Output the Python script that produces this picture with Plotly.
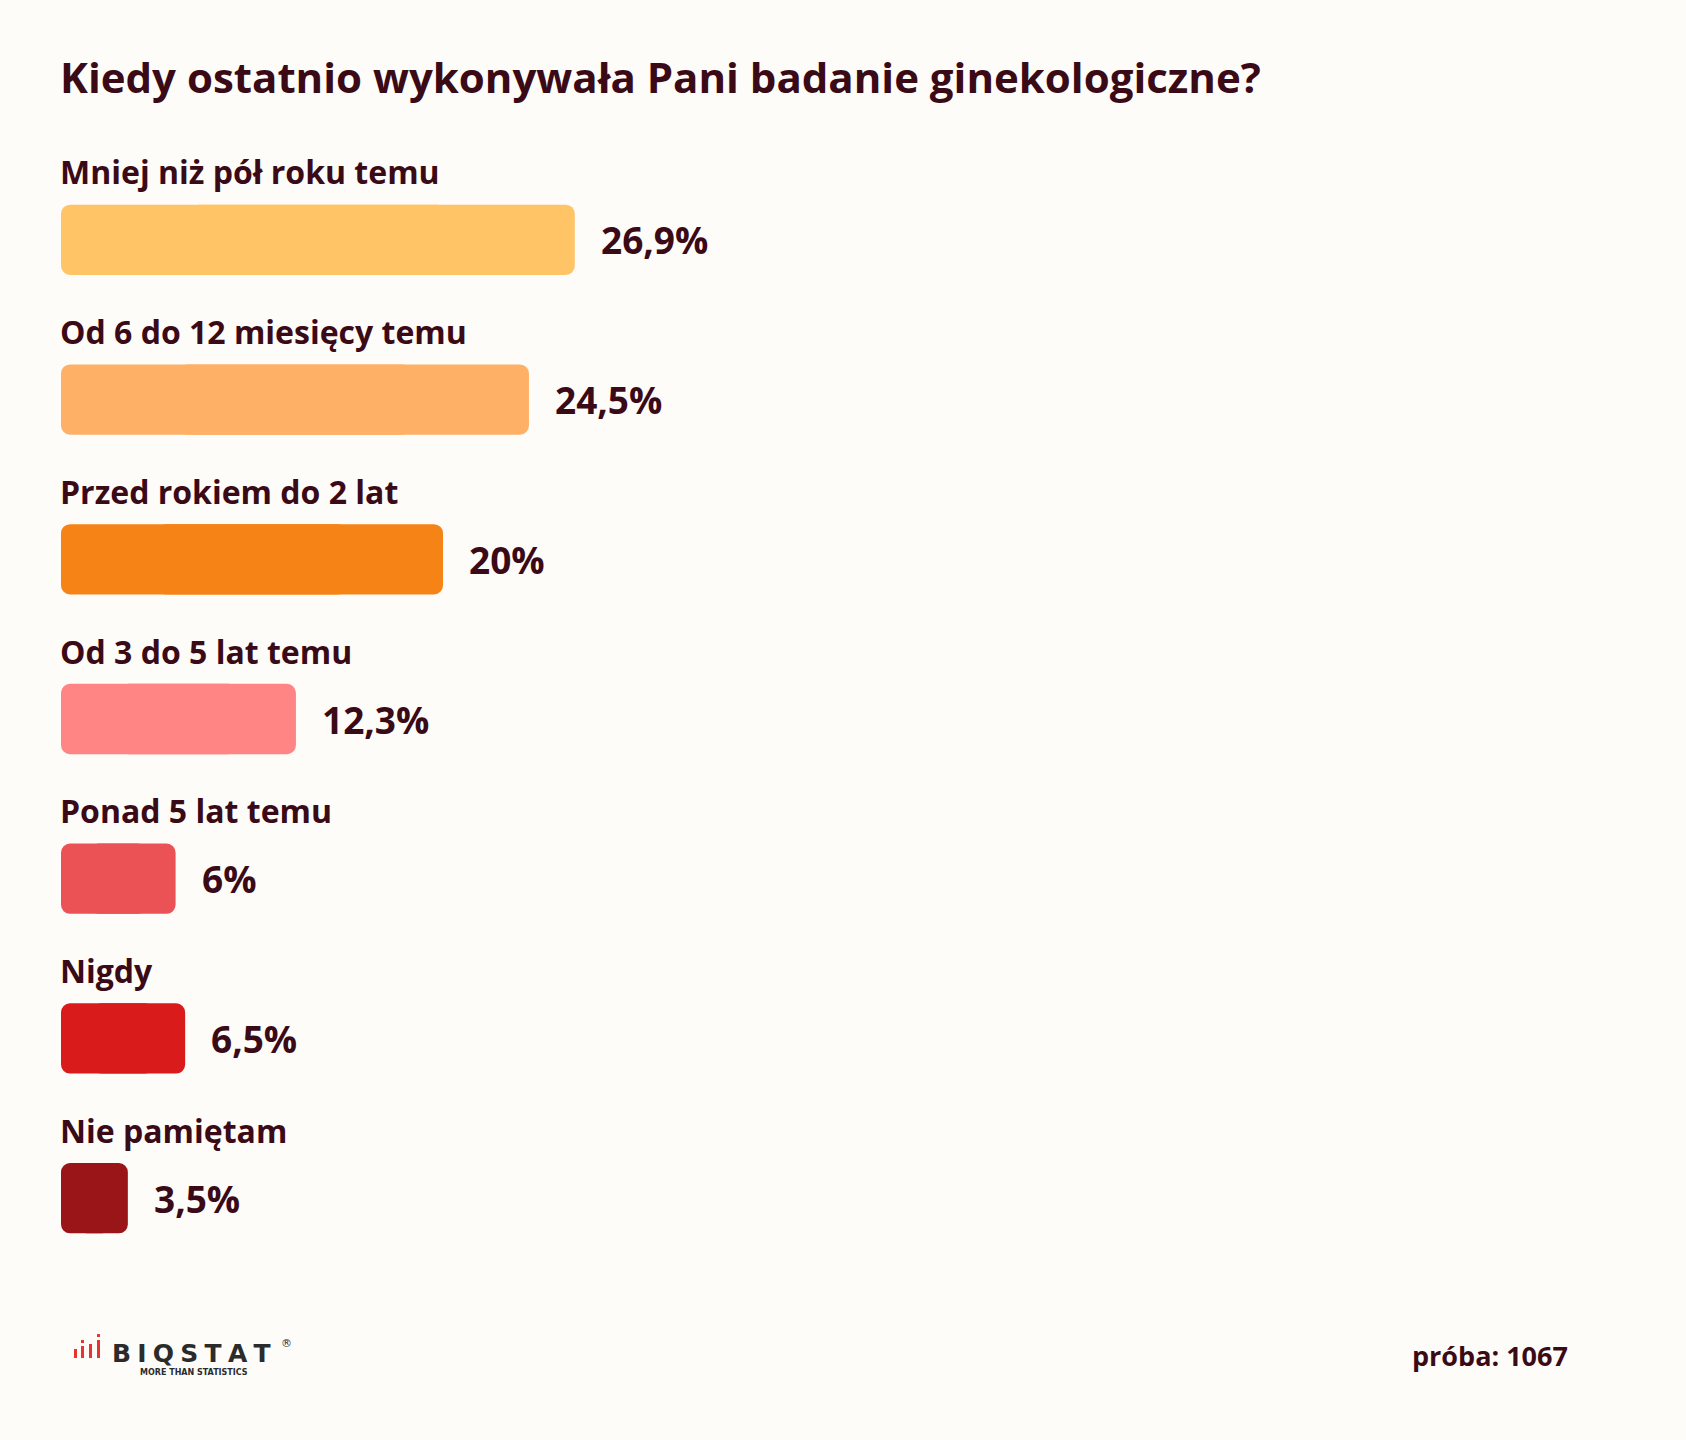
import plotly.graph_objects as go

# ---- data ----
categories = [
    "Mniej niż pół roku temu",
    "Od 6 do 12 miesięcy temu",
    "Przed rokiem do 2 lat",
    "Od 3 do 5 lat temu",
    "Ponad 5 lat temu",
    "Nigdy",
    "Nie pamiętam",
]
values = [26.9, 24.5, 20.0, 12.3, 6.0, 6.5, 3.5]
value_labels = ["26,9%", "24,5%", "20%", "12,3%", "6%", "6,5%", "3,5%"]
colors = ["#FFC466", "#FFB067", "#F58315", "#FF8585", "#EB5256", "#D91B1B", "#9A1518"]

title_text = "Kiedy ostatnio wykonywała Pani badanie ginekologiczne?"
sample_text = "próba: 1067"

# ---- layout geometry ----
W, H = 1686, 1440
ML, MR, MT, MB = 61, 97, 160, 162
PW, PH = W - ML - MR, H - MT - MB
TEXT = "#3A0B16"
BG = "#FDFCF9"
FONT = "Open Sans"


def px(x):
    return (x - ML) / PW


def py(y):
    return 1 - (y - MT) / PH


# each bar is drawn as two overlapping pieces so that both ends get rounded corners
right_base = [v * 0.25 for v in values]
right_len = [v * 0.75 for v in values]
left_base = [v * 0.75 for v in values]
left_len = [-v * 0.75 for v in values]

fig = go.Figure()
fig.add_trace(go.Bar(
    x=right_len, base=right_base, y=categories, orientation="h",
    marker=dict(color=colors, line=dict(width=0)),
    width=0.44, hoverinfo="skip",
))
fig.add_trace(go.Bar(
    x=left_len, base=left_base, y=categories, orientation="h",
    marker=dict(color=colors, line=dict(width=0)),
    width=0.44, hoverinfo="skip",
))

annotations = []
for cat, val, lab in zip(categories, values, value_labels):
    annotations.append(dict(
        x=0, y=cat, xref="x", yref="y", text=cat, showarrow=False,
        xanchor="left", yanchor="middle", yshift=68, xshift=-3,
        font=dict(family=FONT, size=32, color=TEXT, weight=700),
    ))
    annotations.append(dict(
        x=val, y=cat, xref="x", yref="y", text=lab, showarrow=False,
        xanchor="left", yanchor="middle", xshift=24,
        font=dict(family=FONT, size=37, color=TEXT, weight=700),
    ))

# title
annotations.append(dict(
    x=px(58), y=py(77), xref="paper", yref="paper", text=title_text,
    showarrow=False, xanchor="left", yanchor="middle",
    font=dict(family=FONT, size=42, color=TEXT, weight=700),
))
# sample size
annotations.append(dict(
    x=px(1570), y=py(1355), xref="paper", yref="paper", text=sample_text,
    showarrow=False, xanchor="right", yanchor="middle",
    font=dict(family=FONT, size=27, color=TEXT, weight=700),
))
# logo text
sp = "\u2005"
annotations.append(dict(
    x=px(110), y=py(1353), xref="paper", yref="paper", text=sp.join("BIQSTAT"),
    showarrow=False, xanchor="left", yanchor="middle",
    font=dict(family="DejaVu Sans", size=25, color="#2B2B2B", weight=700),
))
annotations.append(dict(
    x=px(194), y=py(1372), xref="paper", yref="paper", text="MORE THAN STATISTICS",
    showarrow=False, xanchor="center", yanchor="middle",
    font=dict(family="DejaVu Sans", size=8, color="#2B2B2B", weight=700),
))
annotations.append(dict(
    x=px(286), y=py(1343), xref="paper", yref="paper", text="®",
    showarrow=False, xanchor="center", yanchor="middle",
    font=dict(family="DejaVu Sans", size=11, color="#2B2B2B"),
))

# logo icon (decorative)
shapes = []
icon = [(74, 1349, 1358), (81, 1346, 1358), (89, 1344, 1358), (97, 1340, 1358)]
dots = [(81, 1340), (97, 1334)]
for x0, y0, y1 in icon:
    shapes.append(dict(type="rect", xref="paper", yref="paper",
                       x0=px(x0), x1=px(x0 + 3), y0=py(y1), y1=py(y0),
                       fillcolor="#E8332F", line=dict(width=0)))
for x0, y0 in dots:
    shapes.append(dict(type="rect", xref="paper", yref="paper",
                       x0=px(x0), x1=px(x0 + 3), y0=py(y0 + 3), y1=py(y0),
                       fillcolor="#E8332F", line=dict(width=0)))

fig.update_layout(
    width=W, height=H,
    margin=dict(l=ML, r=MR, t=MT, b=MB, pad=0),
    paper_bgcolor=BG, plot_bgcolor=BG,
    showlegend=False,
    barmode="overlay",
    barcornerradius=9,
    xaxis=dict(range=[0, 80], visible=False, fixedrange=True),
    yaxis=dict(categoryorder="array", categoryarray=categories,
               range=[6.5, -0.5], autorange=False, visible=False, fixedrange=True),
    annotations=annotations,
    shapes=shapes,
)

fig.write_html(
    "out.html",
    config={"displayModeBar": False},
    post_script="document.body.style.margin='0';document.body.style.background='#FDFCF9';",
)
